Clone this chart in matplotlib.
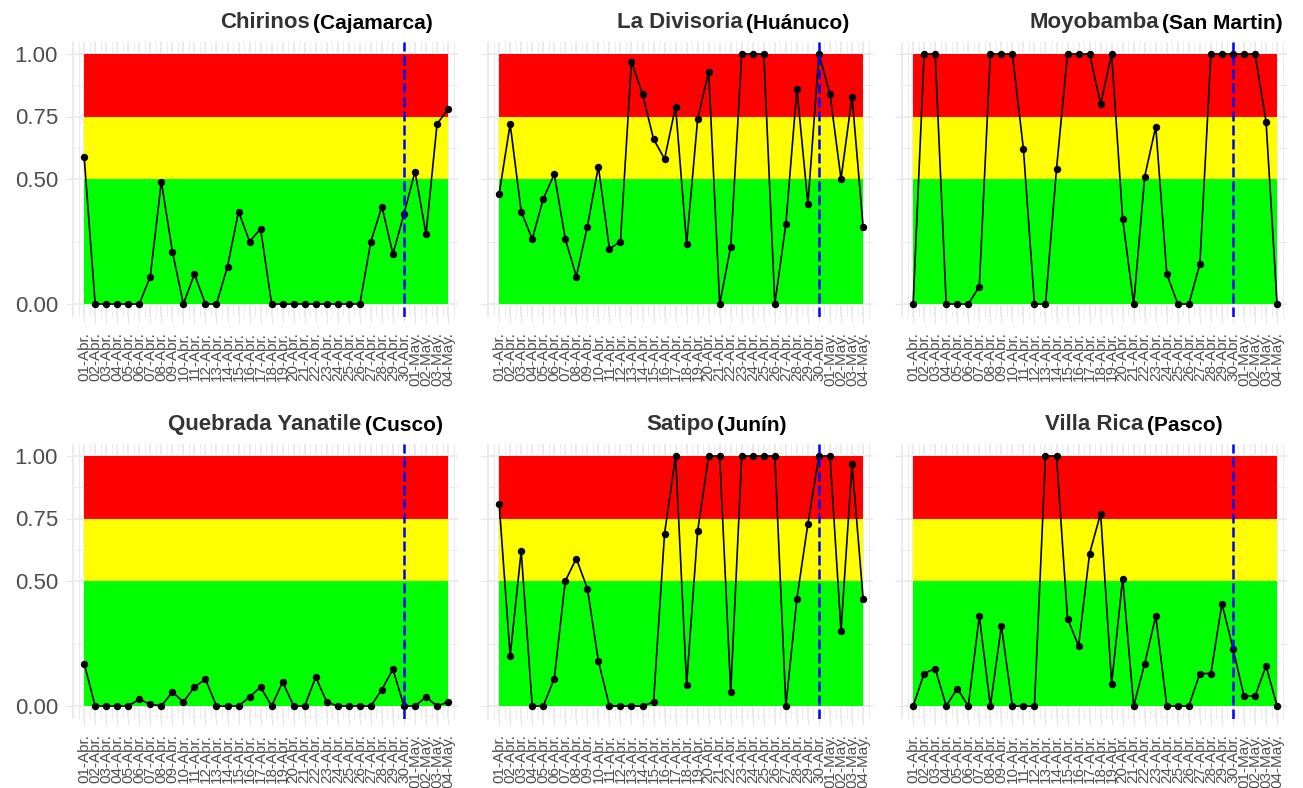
import numpy as np
import matplotlib
matplotlib.use("Agg")
import matplotlib.pyplot as plt

plt.rcParams['font.family'] = ['Liberation Sans', 'DejaVu Sans']

# fechas del eje x
fechas = ['%02d-Abr.' % d for d in range(1, 31)] + ['%02d-May.' % d for d in range(1, 5)]
corte = '30-Abr.'

# nombres de las estaciones y regiones
estaciones = ['Chirinos', 'La Divisoria', 'Moyobamba', 'Quebrada Yanatile', 'Satipo', 'Villa Rica']
regiones = ['(Cajamarca)', '(Huánuco)', '(San Martin)', '(Cusco)', '(Junín)', '(Pasco)']

# valores por estación
chirinos = [0.59, 0, 0, 0, 0, 0, 0.11, 0.49, 0.21, 0, 0.12, 0, 0, 0.15, 0.37, 0.25, 0.30,
            0, 0, 0, 0, 0, 0, 0, 0, 0, 0.25, 0.39, 0.20, 0.36, 0.53, 0.28, 0.72, 0.78]
divisoria = [0.44, 0.72, 0.37, 0.26, 0.42, 0.52, 0.26, 0.11, 0.31, 0.55, 0.22, 0.25, 0.97, 0.84,
             0.66, 0.58, 0.79, 0.24, 0.74, 0.93, 0, 0.23, 1, 1, 1, 0, 0.32, 0.86, 0.40, 1,
             0.84, 0.50, 0.83, 0.31]
moyobamba = [0, 1, 1, 0, 0, 0, 0.07, 1, 1, 1, 0.62, 0, 0, 0.54, 1, 1, 1, 0.80, 1, 0.34,
             0, 0.51, 0.71, 0.12, 0, 0, 0.16, 1, 1, 1, 1, 1, 0.73, 0]
yanatile = [0.17, 0, 0, 0, 0, 0.027, 0.007, 0, 0.056, 0.016, 0.076, 0.107, 0, 0, 0, 0.036,
            0.076, 0, 0.096, 0, 0, 0.116, 0.016, 0, 0, 0, 0, 0.066, 0.147, 0, 0, 0.036, 0, 0.016]
satipo = [0.81, 0.20, 0.62, 0, 0, 0.11, 0.50, 0.59, 0.47, 0.18, 0, 0, 0, 0, 0.016, 0.69, 1,
          0.086, 0.70, 1, 1, 0.056, 1, 1, 1, 1, 0, 0.43, 0.73, 1, 1, 0.30, 0.97, 0.43]
villarica = [0, 0.13, 0.15, 0, 0.07, 0, 0.36, 0, 0.32, 0, 0, 0, 1, 1, 0.35, 0.24, 0.61, 0.77,
             0.09, 0.51, 0, 0.17, 0.36, 0, 0, 0, 0.13, 0.13, 0.41, 0.23, 0.04, 0.04, 0.16, 0]
series = [chirinos, divisoria, moyobamba, yanatile, satipo, villarica]

# umbrales de las bandas
bandas = [(0, 0.5, '#00ff00'), (0.5, 0.75, '#ffff00'), (0.75, 1.0, '#ff0000')]
yticks = [0, 0.5, 0.75, 1.0]

fig = plt.figure(figsize=(13.03, 7.88), dpi=100)
W, H = 1303, 788
lefts = [72, 487, 901]
tops = [41.5, 443.5]
aw, ah = 386, 275

x = np.arange(len(fechas))
xc = fechas.index(corte)

for i, (nombre, region, y) in enumerate(zip(estaciones, regiones, series)):
    fila, col = divmod(i, 3)
    ax = fig.add_axes([lefts[col] / W, 1 - (tops[fila] + ah) / H, aw / W, ah / H])
    ax.set_xlim(-1.1, len(fechas) - 0.1)
    ax.set_ylim(-0.05, 1.05)

    # rejilla tipo theme_minimal
    for gx in np.arange(-1, len(fechas) + 0.5, 0.5):
        lw = 1.4 if gx == int(gx) else 0.7
        ax.axvline(gx, color='#ebebeb', lw=lw, zorder=0)
    for gy in [0, 0.25, 0.5, 0.625, 0.75, 0.875, 1.0]:
        lw = 1.4 if gy in yticks else 0.7
        ax.axhline(gy, color='#ebebeb', lw=lw, zorder=0)

    for y0, y1, c in bandas:
        ax.fill_between([x[0], x[-1]], y0, y1, color=c, lw=0, zorder=1)

    ax.plot(x, y, color='black', lw=1.2, marker='o', ms=4.3, zorder=3)
    ax.axvline(xc, color='#0000ff', lw=1.8, linestyle=(0, (4, 1.6)), zorder=4)

    for s in ax.spines.values():
        s.set_visible(False)
    ax.set_xticks(x)
    ax.set_xticklabels(fechas, rotation=90, fontsize=11, color='#4d4d4d')
    ax.set_yticks(yticks)
    if col == 0:
        ax.set_yticklabels(['0.00', '0.50', '0.75', '1.00'], fontsize=16, color='#4d4d4d')
    else:
        ax.set_yticklabels([])
    ax.tick_params(axis='both', color='#e5e5e5', length=4, width=0.8, pad=6)
    ax.tick_params(axis='x', pad=7)

    t = ax.annotate(nombre, xy=(0.5, 1), xycoords='axes fraction', xytext=(0, 10),
                    textcoords='offset points', ha='center', va='baseline',
                    fontsize=16, fontweight='bold', color='#333333')
    ax.annotate(region, xy=(1, 0), xycoords=t, xytext=(2.5, 0), textcoords='offset points',
                ha='left', va='bottom', fontsize=15, fontweight='bold', color='black')

fig.savefig('out.png', dpi=100)
